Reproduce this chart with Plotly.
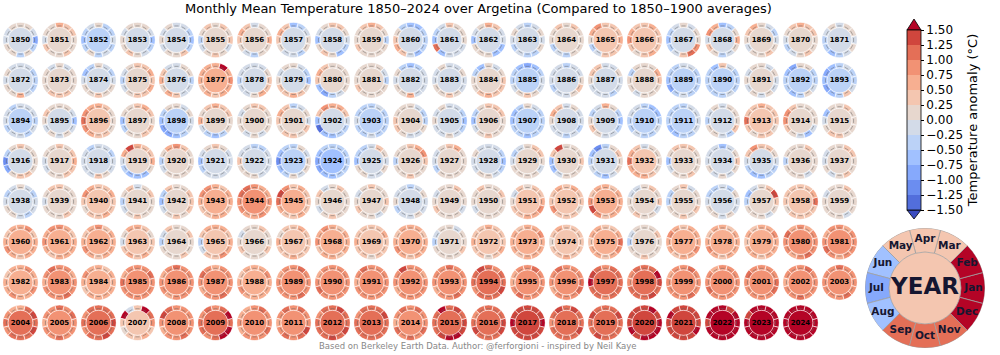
import plotly.graph_objects as go

# ---------------- data ----------------
month_names = ["Jan", "Feb", "Mar", "Apr", "May", "Jun",
               "Jul", "Aug", "Sep", "Oct", "Nov", "Dec"]
first_year = 1850

# monthly anomalies (°C, vs 1850-1900), one list of 12 months per year, grouped by grid row
monthly_1850_1871 = [
    [-0.9,-0.1,0.1,0.1,0.1,-0.1,-0.1,0.1,0.1,-0.4,0.1,-0.4],
    [0.1,0.4,0.4,0.6,0.1,0.1,-0.1,0.4,0.1,0.1,0.4,0.1],
    [-0.1,-0.4,-0.4,0.1,-0.1,-0.4,-0.6,-0.4,0.1,-0.4,-0.1,-0.4],
    [-0.6,-0.1,0.1,0.1,0.1,-0.1,0.1,0.1,0.4,0.1,-0.1,-0.4],
    [-0.6,-0.4,-0.1,-0.1,0.1,-0.1,0.1,-0.1,0.1,0.1,0.4,-0.4],
    [0.4,0.1,0.4,0.1,0.4,0.1,-0.4,-0.1,0.1,0.4,0.1,-0.1],
    [0.6,0.1,0.1,-0.1,0.4,0.6,0.4,0.1,-0.1,-0.4,0.1,0.1],
    [0.1,-0.1,-0.4,-0.6,0.4,0.6,0.4,0.1,-0.1,-0.1,-0.4,0.1],
    [-0.1,0.1,0.4,0.4,0.1,-0.1,-0.6,0.1,0.4,0.1,-0.6,-0.4],
    [-0.4,0.1,0.4,0.6,0.4,0.1,0.1,0.4,0.1,0.1,0.1,0.1],
    [-0.4,-0.4,-0.6,-0.6,-0.4,0.1,0.4,0.6,0.4,-0.1,-0.6,-0.4],
    [0.1,0.1,0.1,0.4,-0.1,-0.4,-0.6,1.1,-0.6,-0.1,-0.1,-0.1],
    [-0.1,-0.1,0.4,0.6,0.1,-0.1,-0.6,0.1,0.1,0.1,-0.6,-0.6],
    [-0.1,0.1,-0.1,-0.4,-0.1,0.1,-0.1,-0.4,-0.1,-0.4,-0.4,0.1],
    [0.1,0.1,0.4,0.1,0.4,0.1,0.1,-0.4,-0.1,-0.4,0.1,0.1],
    [0.6,0.4,0.4,0.4,0.9,0.6,0.1,-0.4,-0.1,0.4,0.4,0.4],
    [0.4,0.4,0.6,0.4,0.4,0.6,0.9,0.4,0.1,0.4,0.6,0.4],
    [0.1,0.1,-0.1,0.1,-0.1,-0.4,-0.6,-0.4,-0.1,0.4,1.1,0.9],
    [0.6,0.1,-0.4,-0.6,0.6,0.9,-0.1,0.4,0.1,-0.4,-0.1,0.1],
    [-0.1,-0.4,-0.1,0.1,0.6,0.4,0.1,-0.1,0.1,0.1,0.4,0.1],
    [0.1,0.4,0.4,0.6,0.4,0.1,-0.1,-0.4,-0.1,0.1,0.4,0.1],
    [-0.1,0.1,0.1,-0.1,0.1,-0.1,-0.4,-0.4,-0.6,-0.4,-0.1,0.1],
]
monthly_1872_1893 = [
    [-0.4,-0.4,-0.1,-0.1,-0.1,0.1,-0.1,0.1,0.1,0.6,-0.1,-0.4],
    [0.1,0.1,-0.1,0.1,-0.1,0.1,0.1,0.1,0.4,0.4,0.4,0.1],
    [-0.1,-0.4,-0.1,0.1,-0.4,-0.6,-0.1,0.1,0.1,0.4,0.1,0.1],
    [0.4,0.6,0.4,0.4,0.1,-0.1,-0.4,-0.1,0.1,0.4,0.4,0.6],
    [-0.4,0.1,0.1,-0.1,-0.1,0.4,0.6,0.1,0.6,0.4,-0.1,-0.1],
    [0.9,0.6,1.6,0.6,0.6,0.6,0.6,0.4,0.6,0.4,0.6,0.6],
    [0.4,0.1,-0.1,-0.1,-0.1,-0.1,-0.4,-0.1,-0.1,0.1,0.6,0.4],
    [-0.6,-0.4,-0.1,0.1,0.1,-0.1,0.1,0.4,0.4,0.6,0.4,0.1],
    [0.1,0.1,0.1,0.1,0.4,0.6,0.4,-0.6,-0.9,-0.4,-0.1,0.1],
    [-0.4,-0.1,0.1,0.1,0.1,0.1,0.1,0.4,0.1,0.1,0.1,0.1],
    [-0.1,-0.1,-0.4,-0.6,-0.4,0.1,-0.1,0.1,0.1,0.6,-0.1,-0.1],
    [-0.1,0.1,-0.1,-0.1,0.1,-0.1,-0.1,0.1,0.1,0.4,0.1,-0.1],
    [0.4,0.1,-0.1,0.1,-0.6,-0.4,0.1,0.1,0.4,0.6,0.4,0.4],
    [-0.1,-0.4,-0.6,-0.9,-0.6,-0.4,-0.4,-0.1,0.1,0.4,0.1,-0.1],
    [0.1,-0.1,-0.1,-0.4,-0.1,-0.1,-0.1,-0.4,-0.1,-0.1,0.1,0.4],
    [-0.1,0.1,-0.1,-0.1,0.4,0.4,0.1,-0.1,-0.1,-0.1,-0.4,-0.1],
    [0.4,0.6,0.1,0.1,0.1,-0.4,0.1,0.1,-0.1,0.1,0.1,0.1],
    [-0.4,-0.4,-0.1,-0.1,-0.4,-0.4,-0.6,-0.9,-0.4,-0.1,-0.4,-0.4],
    [-0.4,-0.4,-0.1,0.4,-0.6,-0.4,-0.4,-0.4,-0.4,-0.4,-0.1,-0.4],
    [-0.1,0.1,-0.1,0.1,0.1,-0.1,0.1,-0.1,0.1,-0.1,0.1,-0.1],
    [-0.4,-0.4,0.1,0.1,-0.9,-0.6,-0.4,-0.4,-0.6,-0.4,0.1,-0.1],
    [-0.4,-0.4,-0.1,-0.4,-0.6,-0.9,-0.6,-0.9,-0.6,-0.4,0.4,-0.1],
]
monthly_1894_1915 = [
    [-0.4,-0.1,-0.1,-0.1,-0.4,-0.1,-0.1,-0.4,-0.1,-0.1,-0.4,-0.1],
    [-0.6,-0.1,0.1,0.1,0.1,0.4,0.1,-0.1,0.1,-0.1,0.1,-0.1],
    [0.1,0.1,0.4,0.6,0.6,0.9,1.1,0.9,0.6,0.4,0.4,0.1],
    [0.1,0.4,0.6,0.4,0.1,0.1,-0.6,-0.4,0.1,0.1,0.4,0.4],
    [-0.1,0.1,-0.1,0.1,0.1,-0.4,-0.6,-0.9,-0.9,-0.6,-0.4,-0.1],
    [0.1,0.4,0.4,0.6,0.4,0.1,0.6,-0.1,-0.4,-0.6,-0.4,0.1],
    [0.1,0.1,0.4,0.4,0.1,-0.1,0.1,0.1,-0.1,0.1,-0.1,0.1],
    [-0.1,0.1,-0.1,-0.4,0.4,0.6,0.4,0.1,0.4,0.4,0.1,0.4],
    [-0.1,0.4,0.6,0.6,0.9,0.4,-0.6,-1.4,-0.6,-0.6,-0.4,-0.4],
    [-0.4,-0.4,-0.1,-0.4,-0.4,-0.4,-0.1,-0.4,-0.4,-0.1,-0.4,-0.4],
    [-0.4,-0.4,-0.1,0.1,0.1,0.1,0.4,0.4,0.1,-0.1,-0.1,0.1],
    [-0.6,-0.4,-0.1,-0.1,0.1,-0.1,0.1,-0.1,-0.1,0.1,-0.1,-0.4],
    [0.1,0.4,0.4,0.4,0.1,-0.4,-0.6,-0.1,0.1,0.4,0.1,0.1],
    [-0.4,-0.4,-0.1,0.1,-0.4,-0.6,-0.6,-0.4,-0.4,-0.6,-0.4,-0.4],
    [-0.1,-0.1,0.1,-0.1,0.4,0.6,0.1,-0.1,-0.1,-0.4,-0.1,-0.4],
    [-0.6,-0.4,0.1,0.6,-0.1,-0.4,0.1,0.4,0.1,-0.1,-0.1,-0.4],
    [-0.4,-0.6,-0.6,-0.4,-0.1,-0.1,-0.4,-0.4,-0.1,-0.4,-0.4,-0.1],
    [-0.1,-0.1,-0.1,-0.4,-0.4,-0.4,-0.4,-0.6,-0.6,-0.4,-0.4,-0.1],
    [0.1,0.1,0.1,-0.1,0.1,-0.1,-0.4,0.1,0.1,-0.1,-0.4,0.4],
    [0.4,0.4,0.4,0.6,0.4,0.4,1.1,0.4,0.1,0.4,0.4,0.1],
    [0.1,0.1,0.1,0.1,0.4,0.9,0.9,0.4,0.1,-0.1,-0.6,-0.1],
    [0.1,0.1,0.4,0.1,0.1,-0.6,-0.1,0.1,0.4,0.4,0.1,0.1],
]
monthly_1916_1937 = [
    [0.1,0.1,0.1,0.4,0.1,-0.4,-1.1,-0.9,0.1,0.4,0.4,0.1],
    [0.6,0.4,0.1,0.4,0.1,0.1,-0.1,-0.1,0.1,0.1,0.4,0.4],
    [-0.1,-0.4,-0.1,-0.1,-0.4,-0.1,-0.1,-0.1,-0.1,0.4,0.1,-0.1],
    [0.6,0.4,0.4,0.6,1.4,0.6,-0.1,-0.4,-0.6,-0.6,-0.6,0.1],
    [0.1,0.1,0.4,0.9,0.6,0.1,-0.4,-0.1,0.1,0.1,0.1,0.1],
    [-0.1,-0.1,0.1,0.4,0.1,-0.1,-0.6,-0.4,-0.1,-0.1,-0.1,-0.1],
    [-0.1,-0.1,-0.4,-0.4,-0.1,-0.1,0.4,0.1,0.1,0.1,-0.1,-0.1],
    [0.1,-0.1,0.1,-0.4,-0.4,-0.6,-1.1,-0.6,-0.4,0.1,-0.1,0.1],
    [-0.4,-0.4,-0.4,-0.4,-0.4,-0.6,-0.9,-0.9,-0.6,-0.6,-0.4,-0.4],
    [-0.1,0.1,0.4,-0.1,-0.4,-0.4,-0.6,0.1,0.1,-0.1,-0.1,0.1],
    [0.4,0.9,0.6,0.4,0.1,0.1,-0.4,0.1,0.1,0.4,0.1,0.1],
    [0.1,0.1,0.6,0.4,0.1,-0.1,-0.1,-0.4,0.1,0.1,0.1,0.1],
    [-0.6,-0.4,-0.1,-0.1,-0.1,0.1,-0.1,-0.1,0.1,0.1,-0.1,-0.4],
    [0.1,0.4,0.4,0.1,-0.1,-0.4,-0.1,0.1,0.1,0.1,0.1,-0.1],
    [0.4,0.1,0.1,0.1,1.4,0.4,-0.6,-0.6,-0.1,0.1,0.1,0.1],
    [0.1,0.4,0.1,-0.4,-1.1,-0.6,-0.4,-0.1,-0.4,-0.6,-0.1,0.1],
    [0.1,0.1,0.1,-0.1,0.4,0.6,1.1,0.6,0.6,0.6,0.4,0.1],
    [0.1,0.1,0.4,0.4,0.4,0.1,-0.6,-0.1,0.1,0.1,0.4,0.1],
    [0.4,0.1,-0.1,-0.6,-0.1,-0.1,-0.1,0.1,-0.1,0.1,-0.1,0.1],
    [-0.1,0.1,0.4,0.4,0.9,0.4,-0.1,-0.4,-0.6,-0.6,-0.4,-0.4],
    [0.1,0.1,0.4,0.1,0.1,0.1,-0.4,0.1,0.1,0.1,-0.1,0.1],
    [0.1,0.4,0.4,0.1,0.1,-0.1,-0.1,0.1,-0.1,0.1,0.4,0.1],
]
monthly_1938_1959 = [
    [-0.1,-0.4,-0.1,0.1,-0.1,-0.4,-0.1,0.1,0.1,-0.1,-0.4,-0.1],
    [0.1,0.1,0.1,0.4,0.4,0.1,-0.1,0.1,0.1,0.1,0.4,0.1],
    [0.4,0.6,0.4,0.4,0.6,0.9,0.4,0.1,0.4,0.4,0.6,0.4],
    [0.1,0.4,0.1,-0.1,0.4,0.1,-0.4,-0.1,0.1,0.4,0.1,0.1],
    [0.4,0.4,0.1,0.1,0.4,-0.4,-0.6,-0.1,0.1,0.4,0.1,0.4],
    [0.6,0.6,0.4,0.6,0.9,0.9,0.6,0.4,0.4,0.6,0.6,0.4],
    [0.9,0.6,0.6,0.9,1.1,1.1,0.9,0.9,0.6,0.6,0.9,0.6],
    [0.4,0.4,0.6,0.4,0.9,1.4,1.1,0.6,0.4,0.4,0.6,0.4],
    [0.1,0.1,0.4,0.1,-0.1,0.4,0.1,-0.1,0.1,0.4,0.1,0.1],
    [0.4,0.1,0.1,0.4,0.1,-0.1,0.1,0.4,0.1,0.1,-0.1,0.1],
    [-0.1,0.1,-0.1,-0.4,-0.1,-0.1,0.1,-0.4,-0.1,-0.1,0.1,-0.1],
    [0.1,0.1,0.4,0.1,0.1,-0.1,0.1,0.4,0.1,0.1,0.1,-0.1],
    [0.1,0.4,0.1,0.1,0.4,0.1,0.1,-0.1,0.1,0.1,0.1,0.1],
    [0.6,0.4,0.4,0.1,0.4,-0.1,0.1,0.4,0.4,0.6,0.6,0.9],
    [0.4,0.4,0.6,0.4,0.6,0.4,0.4,0.9,0.4,0.4,0.4,0.1],
    [0.6,0.6,0.4,0.6,0.6,0.4,0.9,1.4,0.9,0.4,0.6,0.6],
    [0.4,0.1,0.4,0.1,-0.1,-0.1,0.1,0.1,0.4,0.1,0.1,-0.1],
    [0.1,0.1,-0.1,0.4,0.1,-0.4,-0.4,0.1,0.1,0.4,0.1,0.4],
    [-0.1,0.1,-0.4,-0.1,-0.4,-0.4,-0.1,0.1,0.1,-0.1,0.1,-0.1],
    [0.4,1.4,0.4,0.1,-0.1,-0.6,-0.4,0.1,0.1,0.1,-0.1,0.1],
    [1.1,0.6,0.4,0.4,0.4,0.4,0.4,0.1,0.4,0.4,0.4,0.4],
    [0.1,0.1,0.4,0.1,0.1,-0.1,0.1,0.1,0.1,0.1,-0.1,0.1],
]
monthly_1960_1981 = [
    [0.6,0.4,0.9,0.6,0.6,0.4,0.6,0.9,0.6,0.4,0.6,0.6],
    [0.6,0.4,0.6,0.9,0.9,0.6,0.9,0.6,0.4,0.6,0.6,0.6],
    [0.6,0.6,0.4,0.9,0.6,0.4,0.6,0.9,0.6,0.4,0.6,0.6],
    [0.4,0.1,0.4,0.6,0.6,0.1,-0.1,0.4,0.6,0.4,0.6,0.4],
    [0.1,0.4,0.1,0.1,0.4,-0.1,-0.4,0.1,0.1,0.1,0.4,0.1],
    [0.6,0.4,0.6,0.6,0.6,0.4,-0.4,-0.1,0.4,0.4,0.9,0.6],
    [0.1,0.1,0.4,0.1,0.1,-0.1,0.1,0.4,0.1,0.1,0.1,0.4],
    [0.4,0.4,0.6,0.4,0.4,0.1,0.6,0.4,0.4,0.6,0.4,0.4],
    [0.6,0.6,0.4,0.6,0.9,0.6,0.9,0.4,0.6,0.6,0.4,0.6],
    [0.4,0.6,0.4,0.4,0.4,0.4,0.6,0.4,0.4,0.1,0.4,0.4],
    [0.6,0.4,0.6,0.6,0.6,0.4,0.6,0.9,0.6,0.4,0.6,0.6],
    [0.1,0.1,-0.1,0.1,0.1,-0.1,-0.4,0.1,0.1,0.1,0.1,0.4],
    [0.4,0.4,0.4,0.6,0.4,0.4,0.6,0.4,0.4,0.1,0.4,0.6],
    [0.6,0.9,0.6,0.6,0.4,0.6,0.6,0.6,0.4,0.6,0.6,0.6],
    [0.4,0.4,0.4,0.4,0.6,0.4,0.1,0.4,0.4,0.6,0.4,0.4],
    [1.1,0.6,0.4,0.4,0.6,0.6,0.4,0.6,0.6,0.4,0.6,0.9],
    [0.1,0.4,0.1,0.1,0.1,-0.1,-0.4,0.1,0.1,0.4,0.1,0.1],
    [0.6,0.6,0.6,0.4,0.6,0.9,0.6,0.6,0.4,0.6,0.6,0.9],
    [0.6,0.6,0.4,0.6,0.6,0.4,0.6,0.9,0.6,0.4,0.6,0.6],
    [0.6,0.9,0.6,0.6,0.4,0.6,0.4,0.6,0.6,0.4,0.6,0.6],
    [0.9,0.9,0.6,0.9,0.6,1.1,0.9,0.9,0.6,0.9,1.1,0.9],
    [0.9,0.9,0.6,0.9,0.9,0.6,0.9,1.1,0.9,0.6,0.9,0.9],
]
monthly_1982_2003 = [
    [0.6,0.6,0.9,0.6,0.6,0.4,0.6,0.6,0.9,0.6,0.6,0.9],
    [0.9,0.6,0.9,0.9,1.1,0.9,0.6,0.9,0.9,0.9,1.1,0.9],
    [0.6,0.6,0.4,0.6,0.6,0.9,0.6,0.4,0.6,0.6,0.6,0.6],
    [0.9,1.1,0.9,0.9,0.9,0.6,1.1,0.9,0.9,0.9,0.9,0.9],
    [0.9,0.9,0.9,1.1,0.9,0.6,0.9,0.9,0.6,0.9,0.9,0.9],
    [0.9,0.9,0.9,0.6,0.9,1.1,0.9,0.6,0.9,0.9,1.1,0.9],
    [0.6,0.9,0.6,0.6,0.6,0.4,0.6,0.9,0.6,0.6,0.6,0.6],
    [0.9,0.9,1.1,0.9,0.9,0.6,0.9,0.9,0.9,0.9,1.1,0.9],
    [0.9,0.9,0.9,0.9,0.9,0.6,0.9,1.1,0.9,0.9,0.9,0.9],
    [0.9,0.9,0.9,0.9,1.1,0.9,0.6,0.9,0.9,0.9,0.9,0.9],
    [0.9,0.6,0.9,0.9,1.4,0.9,0.9,0.6,0.9,0.9,0.9,0.9],
    [0.9,0.9,0.9,1.1,0.9,0.9,0.9,0.6,0.9,0.9,1.1,0.9],
    [1.1,1.1,0.9,1.1,1.4,1.1,1.1,0.9,1.1,1.1,1.1,1.4],
    [0.9,0.9,1.1,0.9,0.9,0.6,0.6,0.9,1.1,0.9,0.9,0.9],
    [1.1,0.9,0.9,0.9,1.1,0.9,0.9,0.6,0.9,0.9,0.9,1.1],
    [1.1,1.1,1.1,0.9,1.1,1.4,1.6,1.1,1.1,0.9,1.1,1.1],
    [1.4,1.6,1.1,1.1,1.1,0.9,0.9,1.1,1.1,1.1,1.4,1.1],
    [0.9,0.9,1.1,0.9,0.9,0.6,0.9,0.9,0.9,0.9,1.1,0.9],
    [0.9,0.9,0.9,0.9,0.6,0.9,0.9,1.1,0.9,0.9,0.9,0.9],
    [1.1,0.9,0.9,0.9,0.9,1.1,0.9,0.9,0.9,0.9,0.9,1.1],
    [0.9,0.9,1.1,0.9,0.9,0.9,0.6,0.9,0.9,1.1,0.9,0.9],
    [0.9,0.9,0.9,1.1,0.9,0.9,0.9,0.9,0.9,0.9,1.1,0.9],
]
monthly_2004_2024 = [
    [1.1,1.4,1.1,0.6,0.6,0.9,1.1,0.9,1.1,1.1,1.1,1.4],
    [0.9,1.1,0.9,1.1,0.9,0.9,0.6,0.9,0.9,1.1,0.9,0.9],
    [1.4,1.1,1.1,1.1,1.1,0.9,1.1,0.9,1.1,1.1,1.4,1.1],
    [0.9,1.1,1.6,0.4,-0.1,1.6,0.4,0.1,0.4,0.4,0.6,0.4],
    [0.9,0.9,0.9,0.9,1.1,1.4,0.9,0.6,0.9,0.9,1.1,0.9],
    [1.1,1.6,1.1,0.9,1.1,0.9,1.1,1.1,0.9,1.1,1.6,1.6],
    [0.9,0.9,1.1,0.9,0.6,0.6,0.9,0.6,0.9,0.9,0.9,1.1],
    [0.9,0.9,1.1,0.9,1.1,0.9,0.6,0.9,1.1,0.9,1.1,1.4],
    [1.1,1.1,1.4,1.1,1.1,0.9,1.1,1.1,1.1,1.4,1.1,1.4],
    [1.1,1.4,1.1,1.1,1.1,0.9,1.1,1.1,1.1,1.1,1.1,1.1],
    [0.9,0.9,1.1,0.9,1.1,0.9,0.6,1.1,0.9,1.1,0.9,1.1],
    [1.4,1.1,1.4,1.1,1.6,1.1,1.1,1.1,1.4,1.6,1.6,1.4],
    [1.4,1.1,1.1,1.1,1.1,0.9,1.1,1.4,1.1,1.1,1.1,1.4],
    [1.6,1.4,1.4,1.4,1.4,1.4,1.6,1.4,1.4,1.4,1.4,1.4],
    [1.1,1.1,1.4,1.1,1.4,1.1,0.9,1.1,1.1,1.1,1.1,1.4],
    [1.1,1.4,1.1,1.1,1.1,1.4,1.1,1.1,1.4,1.1,1.1,1.1],
    [1.6,1.4,1.6,1.4,1.4,1.4,1.4,1.6,1.4,1.6,1.6,1.6],
    [1.4,1.4,1.4,1.4,1.4,1.6,1.4,1.4,1.4,1.4,1.4,1.6],
    [1.6,1.6,1.4,1.6,1.6,1.6,1.4,1.6,1.6,1.6,1.6,1.6],
    [1.6,1.6,1.6,1.6,1.6,1.4,1.6,1.6,1.6,1.6,1.6,1.6],
    [1.6,1.6,1.6,1.6,1.6,1.6,1.6,1.6,1.6,1.6,1.6,1.6],
]

# annual mean anomaly (centre disc), same grouping
annual_1850_1871 = [-0.1,0.1,-0.4,-0.1,-0.1,0.1,0.1,-0.1,-0.1,0.1,-0.1,-0.1,-0.1,-0.1,0.1,0.4,0.4,-0.1,-0.1,0.1,0.1,-0.1]
annual_1872_1893 = [-0.1,0.1,-0.1,0.1,-0.1,0.6,-0.1,-0.1,0.1,0.1,-0.1,-0.1,0.1,-0.4,-0.1,-0.1,0.1,-0.4,-0.4,0.1,-0.4,-0.4]
annual_1894_1915 = [-0.4,-0.1,0.4,0.1,-0.4,0.1,0.1,0.1,-0.1,-0.4,0.1,-0.1,0.1,-0.4,-0.1,-0.1,-0.4,-0.4,-0.1,0.4,0.1,0.1]
annual_1916_1937 = [-0.1,0.1,-0.1,0.1,0.1,-0.1,-0.1,-0.4,-0.6,-0.1,0.1,0.1,-0.1,0.1,0.1,-0.1,0.4,0.1,-0.1,-0.1,0.1,0.1]
annual_1938_1959 = [-0.1,0.1,0.4,0.1,0.1,0.6,0.9,0.6,0.1,0.1,-0.1,0.1,0.1,0.4,0.4,0.6,0.1,0.1,-0.1,0.1,0.4,0.1]
annual_1960_1981 = [0.6,0.6,0.6,0.4,0.1,0.4,0.1,0.4,0.6,0.4,0.6,0.1,0.4,0.6,0.4,0.6,0.1,0.6,0.6,0.6,0.9,0.9]
annual_1982_2003 = [0.6,0.9,0.6,0.9,0.9,0.9,0.6,0.9,0.9,0.9,0.9,0.9,1.1,0.9,0.9,1.1,1.1,0.9,0.9,0.9,0.9,0.9]
annual_2004_2024 = [1.1,0.9,1.1,0.4,0.9,1.1,0.9,0.9,1.1,1.1,0.9,1.1,1.1,1.4,1.1,1.1,1.4,1.4,1.6,1.6,1.6]

# illustrative key donut
key_months = [1.6,1.6,0.4,0.4,0.4,-0.6,-0.9,-0.6,1.1,1.1,1.1,1.6]
key_year = 0.4
key_label = "YEAR"

colorbar_ticks = [-1.5,-1.25,-1.0,-0.75,-0.5,-0.25,0.0,0.25,0.5,0.75,1.0,1.25,1.5]

title_text = "Monthly Mean Temperature 1850–2024 over Argetina (Compared to 1850–1900 averages)"
footer_text = "Based on Berkeley Earth Data. Author: @ferforgioni - inspired by Neil Kaye"

# ---------------- styling ----------------
# coolwarm sampled for 12 interior bins + 2 "extend" bins
coolwarm14 = [
    "rgb(59,76,192)", "rgb(82,110,220)", "rgb(107,141,240)", "rgb(134,169,252)",
    "rgb(161,193,255)", "rgb(187,210,247)", "rgb(211,219,232)", "rgb(231,215,206)",
    "rgb(244,198,176)", "rgb(247,175,145)", "rgb(242,146,116)", "rgb(228,111,87)",
    "rgb(208,70,61)", "rgb(180,4,38)",
]


def discrete_scale(colors):
    n = len(colors)
    sc = []
    for k, c in enumerate(colors):
        sc.append([k / n, c])
        sc.append([(k + 1) / n, c])
    return sc


W, H = 1000, 355
NCOL = 22
col_x0, col_dx = 20.5, 39.0
row_y0, row_dy = 40.0, 40.4
RAD = 17.8
INNER = 0.70
FONT = "DejaVu Sans"

monthly_all = (monthly_1850_1871 + monthly_1872_1893 + monthly_1894_1915 + monthly_1916_1937 +
               monthly_1938_1959 + monthly_1960_1981 + monthly_1982_2003 + monthly_2004_2024)
annual_all = (annual_1850_1871 + annual_1872_1893 + annual_1894_1915 + annual_1916_1937 +
              annual_1938_1959 + annual_1960_1981 + annual_1982_2003 + annual_2004_2024)
years = [first_year + i for i in range(len(monthly_all))]

theta_ring = [i * 30 for i in range(12)]

fig = go.Figure()
layout_polars = {}


def polar_layout(cx, cy, R):
    return dict(
        domain=dict(x=[(cx - R) / W, (cx + R) / W], y=[1 - (cy + R) / H, 1 - (cy - R) / H]),
        bgcolor="rgba(0,0,0,0)", hole=0, barmode="overlay",
        radialaxis=dict(visible=False, range=[0, 1], showgrid=False, showline=False),
        angularaxis=dict(visible=False, direction="counterclockwise", rotation=0,
                         showgrid=False, showline=False, ticks=""),
    )


for i, (yr, mvals, aval) in enumerate(zip(years, monthly_all, annual_all)):
    ri, ci = divmod(i, NCOL)
    cx = col_x0 + ci * col_dx
    cy = row_y0 + ri * row_dy
    key = "polar" if i == 0 else f"polar{i + 1}"
    layout_polars[key] = polar_layout(cx, cy, RAD)
    fig.add_trace(go.Barpolar(
        r=[INNER] + [1 - INNER] * 12,
        base=[0] + [INNER] * 12,
        theta=[0] + theta_ring,
        width=[360] + [30] * 12,
        marker=dict(color=[aval] + mvals, coloraxis="coloraxis",
                    line=dict(color=["rgba(0,0,0,0)"] + ["white"] * 12, width=0.6)),
        subplot=key, hoverinfo="skip", showlegend=False,
    ))
    fig.add_trace(go.Scatterpolar(
        r=[0] + [0.79] * 12,
        theta=[0] + theta_ring,
        mode="markers+text",
        text=[str(yr)] + [""] * 12,
        textposition="middle center",
        textfont=dict(family=FONT, size=7, color="black", weight="bold"),
        marker=dict(symbol=["circle"] + ["line-ew"] * 12, size=[0] + [3] * 12,
                    angle=[0] + [90 - t for t in theta_ring], color="#666",
                    line=dict(width=0.7, color="#666")),
        subplot=key, hoverinfo="skip", showlegend=False,
    ))

# key donut
kkey = f"polar{len(years) + 1}"
layout_polars[kkey] = polar_layout(925, 288, 60)
fig.add_trace(go.Barpolar(
    r=[0.6] + [0.4] * 12,
    base=[0] + [0.6] * 12,
    theta=[0] + theta_ring,
    width=[360] + [30] * 12,
    marker=dict(color=[key_year] + key_months, coloraxis="coloraxis",
                line=dict(color=["rgba(0,0,0,0)"] + ["#a0a0a0"] * 12, width=0.8)),
    subplot=kkey, hoverinfo="skip", showlegend=False,
))
fig.add_trace(go.Scatterpolar(
    r=[0] + [0.81] * 12,
    theta=[0] + theta_ring,
    mode="text",
    text=[key_label] + month_names,
    textposition="middle center",
    textfont=dict(family=FONT, size=[23] + [10.5] * 12, color="#161630", weight="bold"),
    subplot=kkey, hoverinfo="skip", showlegend=False,
))
# invisible trace carrying the colour bar
fig.add_trace(go.Scatterpolar(
    r=[0], theta=[0], mode="markers",
    marker=dict(color=[0], coloraxis="coloraxis2", size=1, opacity=0),
    subplot=kkey, hoverinfo="skip", showlegend=False,
))


def fmt_tick(v):
    return f"{v:.2f}".replace("-", "\u2212")


cb_top, cb_bot = 30, 210
cb_x0, cb_w = 907, 14
fig.update_layout(
    **layout_polars,
    width=W, height=H, autosize=False,
    margin=dict(l=0, r=0, t=0, b=0),
    paper_bgcolor="white", plot_bgcolor="white",
    coloraxis=dict(colorscale=discrete_scale(coolwarm14), cmin=-1.75, cmax=1.75, showscale=False),
    coloraxis2=dict(
        colorscale=discrete_scale(coolwarm14[1:-1]), cmin=-1.5, cmax=1.5, showscale=True,
        colorbar=dict(
            x=cb_x0 / W, xanchor="left", xpad=0,
            y=1 - (cb_top + cb_bot) / 2 / H, yanchor="middle", ypad=0,
            len=cb_bot - cb_top, lenmode="pixels",
            thickness=cb_w, thicknessmode="pixels",
            outlinewidth=0.8, outlinecolor="black",
            tickvals=colorbar_ticks, ticktext=[fmt_tick(v) for v in colorbar_ticks],
            ticks="outside", ticklen=3, tickwidth=0.8, tickcolor="black",
            tickfont=dict(family=FONT, size=12, color="black"),
            title=dict(text="Temperature anomaly (°C)", side="right",
                       font=dict(family=FONT, size=13, color="black")),
        ),
    ),
    annotations=[
        dict(text=title_text, x=0.478, y=1 - 9 / H, xref="paper", yref="paper",
             showarrow=False, xanchor="center", yanchor="middle",
             font=dict(family=FONT, size=13, color="black")),
        dict(text=footer_text, x=0.478, y=1 - 346 / H, xref="paper", yref="paper",
             showarrow=False, xanchor="center", yanchor="middle",
             font=dict(family=FONT, size=8.5, color="#888888")),
    ],
)

# colour-bar extension triangles
def px(x):
    return x / W


def py(y):
    return 1 - y / H


xm = cb_x0 + cb_w / 2
fig.add_shape(type="path", xref="paper", yref="paper",
              path=f"M {px(cb_x0)},{py(cb_top)} L {px(cb_x0 + cb_w)},{py(cb_top)} L {px(xm)},{py(cb_top - 11)} Z",
              fillcolor=coolwarm14[-1], line=dict(color="black", width=0.8))
fig.add_shape(type="path", xref="paper", yref="paper",
              path=f"M {px(cb_x0)},{py(cb_bot)} L {px(cb_x0 + cb_w)},{py(cb_bot)} L {px(xm)},{py(cb_bot + 9)} Z",
              fillcolor=coolwarm14[0], line=dict(color="black", width=0.8))

fig.write_html("out.html", config={"displayModeBar": False},
               post_script="document.body.style.margin='0px';document.body.style.padding='0px';")
